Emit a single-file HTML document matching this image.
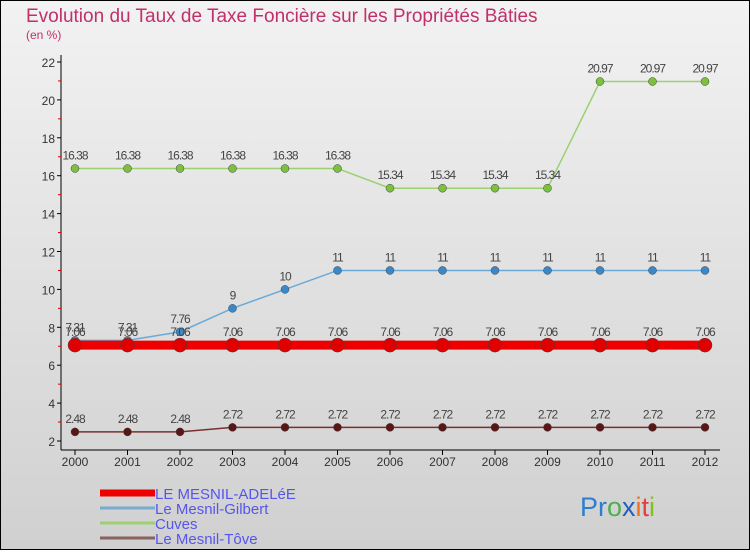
<!DOCTYPE html>
<html><head><meta charset="utf-8"><style>
body{margin:0;}
svg text{font-family:"Liberation Sans",sans-serif;}
</style></head><body>
<svg width="750" height="550" viewBox="0 0 750 550" xmlns="http://www.w3.org/2000/svg">
<defs><linearGradient id="bg" x1="0" y1="0" x2="0" y2="1"><stop offset="0" stop-color="#f2f2f2"/><stop offset="1" stop-color="#d0d0d0"/></linearGradient></defs>
<rect x="0.5" y="0.5" width="749" height="549" fill="url(#bg)" stroke="#000"/>
<text x="26" y="22" font-size="19" fill="#c0306a">Evolution du Taux de Taxe Foncière sur les Propriétés Bâties</text>
<text x="26" y="39" font-size="12" fill="#c0306a">(en %)</text>
<g id="axes"></g>
<g id="series"></g>
<g id="legend"></g>
<text x="580" y="516" font-size="27"><tspan fill="#2a7fd0">Pr</tspan><tspan fill="#4caf50">o</tspan><tspan fill="#2060c0">x</tspan><tspan fill="#f07020">i</tspan><tspan fill="#e04040">t</tspan><tspan fill="#80c020">i</tspan></text>
</svg>
<script>
const years=[2000,2001,2002,2003,2004,2005,2006,2007,2008,2009,2010,2011,2012];
const yTicks=[2,4,6,8,10,12,14,16,18,20,22];
const adele=[7.06,7.06,7.06,7.06,7.06,7.06,7.06,7.06,7.06,7.06,7.06,7.06,7.06];
const gilbert=[7.31,7.31,7.76,9,10,11,11,11,11,11,11,11,11];
const cuves=[16.38,16.38,16.38,16.38,16.38,16.38,15.34,15.34,15.34,15.34,20.97,20.97,20.97];
const tove=[2.48,2.48,2.48,2.72,2.72,2.72,2.72,2.72,2.72,2.72,2.72,2.72,2.72];
const names=["LE MESNIL-ADELéE","Le Mesnil-Gilbert","Cuves","Le Mesnil-Tôve"];
const NS="http://www.w3.org/2000/svg";
const xs=i=>75+i*52.5;
const ys=v=>441-(v-2)*18.95;
function mk(p,t,a){const e=document.createElementNS(NS,t);for(const k in a)e.setAttribute(k,a[k]);p.appendChild(e);return e;}
const ax=document.getElementById('axes');
let l=mk(ax,'line',{x1:61,y1:55,x2:61,y2:450,stroke:'#000'});


l=mk(ax,'line',{x1:61,y1:450,x2:720,y2:450,stroke:'#000'});


yTicks.forEach(v=>{
 mk(ax,'line',{x1:57,y1:ys(v),x2:61,y2:ys(v),stroke:'#000'});
 if(v<22)mk(ax,'line',{x1:58,y1:ys(v+1),x2:61,y2:ys(v+1),stroke:'#d00'});
 const t=mk(ax,'text',{x:55,y:ys(v)+5,'font-size':12,'text-anchor':'end',fill:'#333'});t.textContent=v;
 
 
});
years.forEach((y,i)=>{
 mk(ax,'line',{x1:xs(i),y1:450,x2:xs(i),y2:455,stroke:'#000'});
 const t=mk(ax,'text',{x:xs(i),y:466,'font-size':12,'text-anchor':'middle',fill:'#333'});t.textContent=y;
 
 
});
const sg=document.getElementById('series');
const defs=[[tove,'#7a3030','#5a1515',1.5,4],[cuves,'#9cd070','#7cc040',1.5,4],[gilbert,'#6aaad8','#3a88cc',1.5,4],[adele,'#ee0000','#e00000',9,7]];
const snames=['series-le-mesnil-tove','series-cuves','series-le-mesnil-gilbert','series-le-mesnil-adelee'];
defs.forEach((d,si)=>{
 const g=mk(sg,'g',{});
 
 
 const pts=d[0].map((v,i)=>xs(i)+','+ys(v)).join(' ');
 mk(g,'polyline',{points:pts,fill:'none',stroke:d[1],'stroke-width':d[3]});
 d[0].forEach((v,i)=>{
  const c=mk(g,'circle',{cx:xs(i),cy:ys(v),r:d[4],fill:d[2],stroke:'#444','stroke-width':0.5});
  
  
  const t=mk(g,'text',{x:xs(i),y:ys(v)-9,'font-size':12,'text-anchor':'middle',fill:'#444','letter-spacing':'-1'});t.textContent=v;
  
  
 });
});
const lg=document.getElementById('legend');
const lc=['#ee0000','#7aaad0','#9cd070','#8a6060'];const lw=[7,3,3,3];
names.forEach((n,i)=>{
 const g=mk(lg,'g',{});
 
 
 mk(g,'line',{x1:100,y1:493+i*15,x2:155,y2:493+i*15,stroke:lc[i],'stroke-width':lw[i]});
 const t=mk(g,'text',{x:155,y:499+i*15,'font-size':15,fill:'#5555ee'});t.textContent=n;
});
</script>
</body></html>
